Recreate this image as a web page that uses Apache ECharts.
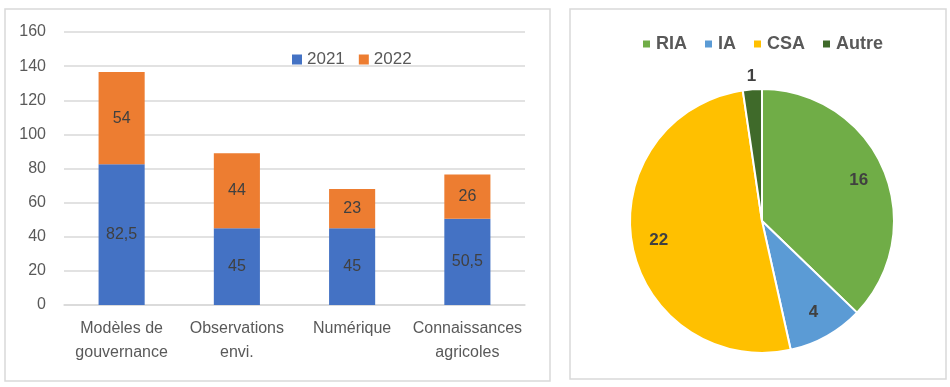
<!DOCTYPE html>
<html>
<head>
<meta charset="utf-8">
<script src="https://cdn.jsdelivr.net/npm/echarts@6/dist/echarts.min.js"></script>
<style>
html,body{margin:0;padding:0;background:#fff;}
#c{width:950px;height:387px;}
</style>
</head>
<body>
<div id="c"></div>
<script>
const categories = ['Modèles de\ngouvernance', 'Observations\nenvi.', 'Numérique', 'Connaissances\nagricoles'];
const values2021 = [82.5, 45, 45, 50.5];
const values2022 = [54, 44, 23, 26];
const barSeriesNames = ['2021', '2022'];
const pieNames = ['RIA', 'IA', 'CSA', 'Autre'];
const pieValues = [16, 4, 22, 1];
const pieColors = ['#70AD47', '#5B9BD5', '#FFC000', '#3F6A2A'];
const outsideLabelNames = ['Autre'];

const FONT = '"Liberation Sans", Arial, sans-serif';
const fmt = v => String(v).replace('.', ',');

const pieData = pieNames.map((n, i) => ({ name: n, value: pieValues[i], itemStyle: { color: pieColors[i] } }));
const innerLabelData = pieNames.map((n, i) => ({
  name: n, value: pieValues[i],
  label: { show: outsideLabelNames.indexOf(n) < 0 }
}));
const outerLabelData = pieNames.map((n, i) => ({
  name: n, value: pieValues[i],
  label: { show: outsideLabelNames.indexOf(n) >= 0 }
}));

const chart = echarts.init(document.getElementById('c'), null, { renderer: 'canvas' });
const pieLabel = { position: 'inside', color: '#404040', fontFamily: FONT, fontSize: 17, fontWeight: 'bold', formatter: p => fmt(p.value) };
const overlayBase = {
  type: 'pie', center: [762, 221], startAngle: 90, clockwise: true, silent: true,
  itemStyle: { color: 'transparent', borderWidth: 0 },
  emphasis: { disabled: true }, labelLine: { show: false }, animation: false
};

chart.setOption({
  animation: false,
  textStyle: { fontFamily: FONT },
  graphic: [
    { type: 'rect', shape: { x: 5, y: 9, width: 545, height: 372 }, style: { fill: 'none', stroke: '#d9d9d9', lineWidth: 1.5 }, silent: true },
    { type: 'rect', shape: { x: 570, y: 9, width: 376, height: 370 }, style: { fill: 'none', stroke: '#d9d9d9', lineWidth: 1.5 }, silent: true }
  ],
  legend: [
    {
      data: barSeriesNames, left: 287, top: 46, icon: 'rect', itemWidth: 10, itemHeight: 10, itemGap: 14,
      textStyle: { color: '#595959', fontSize: 17, fontFamily: FONT }, selectedMode: false
    },
    {
      data: pieNames, left: 636, top: 30, icon: 'rect', itemWidth: 9, itemHeight: 9, itemGap: 16,
      textStyle: { color: '#595959', fontSize: 18, fontWeight: 'bold', fontFamily: FONT }, selectedMode: false
    }
  ],
  grid: { left: 64, right: 425, top: 32, bottom: 82, containLabel: false },
  xAxis: {
    type: 'category', data: categories,
    axisLine: { lineStyle: { color: '#d9d9d9', width: 1.5 } },
    axisTick: { show: false },
    axisLabel: { color: '#595959', fontSize: 16, fontFamily: FONT, lineHeight: 24, margin: 12, interval: 0 }
  },
  yAxis: {
    type: 'value', min: 0, max: 160, interval: 20,
    axisLine: { show: false }, axisTick: { show: false },
    splitLine: { lineStyle: { color: '#d9d9d9', width: 1.5 } },
    axisLabel: { color: '#595959', fontSize: 16, fontFamily: FONT, margin: 18 }
  },
  series: [
    {
      name: barSeriesNames[0], type: 'bar', stack: 's', data: values2021, barWidth: '40%',
      itemStyle: { color: '#4472C4' },
      label: { show: true, position: 'inside', color: '#404040', fontSize: 16, fontFamily: FONT, formatter: p => fmt(p.value) }
    },
    {
      name: barSeriesNames[1], type: 'bar', stack: 's', data: values2022, barWidth: '40%',
      itemStyle: { color: '#ED7D31' },
      label: { show: true, position: 'inside', color: '#404040', fontSize: 16, fontFamily: FONT, formatter: p => fmt(p.value) }
    },
    {
      type: 'pie', center: [762, 221], radius: [0, 132], startAngle: 90, clockwise: true,
      data: pieData,
      itemStyle: { borderColor: '#ffffff', borderWidth: 2 },
      label: { show: false }, labelLine: { show: false },
      emphasis: { disabled: true }
    },
    Object.assign({}, overlayBase, { radius: [72, 132], data: innerLabelData, label: pieLabel }),
    Object.assign({}, overlayBase, { radius: [136, 149], data: outerLabelData, label: pieLabel })
  ]
});
</script>
</body>
</html>
